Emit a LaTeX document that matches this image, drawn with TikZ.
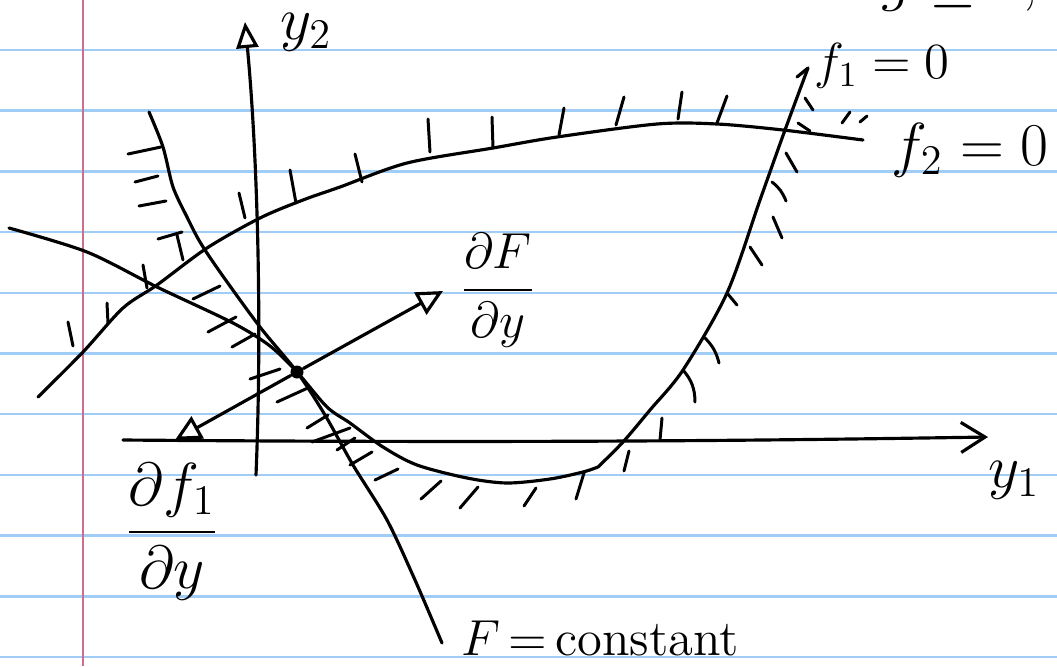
\documentclass[tikz,border=0pt]{standalone}
\usepackage{amsmath}
\usetikzlibrary{arrows.meta}
\definecolor{rulingblue}{RGB}{160,205,245}
\definecolor{marginred}{RGB}{205,110,140}
\tikzset{
  ruling/.style={draw=rulingblue, line width=0.7pt},
  marginline/.style={draw=marginred, line width=0.7pt},
  pen/.style={line width=0.9pt, draw=black, line cap=round, line join=round},
  hatch/.style={line width=0.85pt, draw=black, line cap=round},
  axisone/.style={pen, -{Straight Barb[length=0.24cm, width=0.3cm, line width=0.9pt]}},
  axistwo/.style={pen, -{Triangle[open, length=0.26cm, width=0.22cm, line width=0.9pt]}},
  gradarrow/.style={pen, -{Triangle[open, length=0.26cm, width=0.25cm, line width=0.9pt]}},
  dot/.style={circle, fill=black, inner sep=0pt, minimum size=0.13cm},
  hand/.style={font=\Large},
}

\begin{document}
\begin{tikzpicture}[x=0.01cm, y=-0.01cm]
\useasboundingbox (0,0) rectangle (1057,666);
% ruled paper
\foreach \k in {0,...,10}
  \draw[ruling] (0,{50+60.7*\k}) -- (1057,{50+60.7*\k});
\draw[marginline] (83,0) -- (83,666);
% axes
\coordinate (yoneS) at (123,440);
\coordinate (yoneE) at (988,437);
\coordinate (ytwoS) at (256,475);
\coordinate (ytwoE) at (245,22);
\draw[axisone] (yoneS) .. controls (500,443) and (740,441) .. (yoneE);
\draw[axistwo] (ytwoS) .. controls (262,330) and (258,160) .. (ytwoE);
\node[font=\LARGE] (lbyone) at (1014,480) {$y_1$};
\node[font=\LARGE] (lbytwo) at (306,32) {$y_2$};
% f2 = 0
\draw[pen] plot[smooth] coordinates {(38,397) (83,352) (123,308) (157,285) (207,248)
  (260,218) (303,200) (340,187) (407,163) (493,148) (557,137) (657,124) (717,124)
  (783,130) (863,140)};
% f1 = 0
\draw[pen] plot[smooth] coordinates {(9,228) (87,252) (157,287) (233,323) (270,346)
  (297,372) (327,407) (350,423) (383,447) (417,465) (467,478) (507,483) (550,479)
  (583,472) (598,467)}
  plot[smooth] coordinates {(598,467) (623,442) (650,410) (683,370) (727,293)
  (760,200) (785,130) (808,68)};
\draw[pen] (808,68) -- (797,77);
% F = constant
\draw[pen] plot[smooth] coordinates {(149,112) (163,147) (173,187) (187,217) (200,242)
  (220,272) (260,327) (297,372) (325,415) (353,465) (387,520) (415,580) (442,643)};
% hatches on f2
\draw[hatch] (68,322) -- (73,346);
\draw[hatch] (107,303) -- (108,323);
\draw[hatch] (143,265) -- (147,288);
\draw[hatch] (177,235) -- (183,260);
\draw[hatch] (239,193) -- (245,218);
\draw[hatch] (290,170) -- (296,203);
\draw[hatch] (355,154) -- (362,182);
\draw[hatch] (428,119) -- (430,152);
\draw[hatch] (492,117) -- (493,148);
\draw[hatch] (564,108) -- (559,135);
\draw[hatch] (624,97) -- (616,125);
\draw[hatch] (682,92) -- (678,119);
\draw[hatch] (727,96) -- (717,123);
\draw[hatch] (842,123) -- (850,112);
\draw[hatch] (860,122) -- (867,116);
% hatches on F = constant and f1
\draw[hatch] (128,154) -- (161,147);
\draw[hatch] (135,182) -- (158,176);
\draw[hatch] (139,206) -- (166,201);
\draw[hatch] (158,239) -- (182,232);
\draw[hatch] (193,299) -- (220,286);
\draw[hatch] (208,332) -- (236,317);
\draw[hatch] (232,347) -- (255,334);
\draw[hatch] (250,379) -- (280,369);
\draw[hatch] (277,402) -- (310,387);
\draw[hatch] (307,428) -- (328,415);
\draw[hatch] (312,442) -- (350,428);
\draw[hatch] (337,450) -- (355,438);
\draw[hatch] (350,465) -- (372,452);
\draw[hatch] (375,480) -- (398,469);
\draw[hatch] (421,499) -- (441,481);
\draw[hatch] (460,508) -- (478,487);
\draw[hatch] (524,506) -- (536,488);
\draw[hatch] (576,499) -- (584,473);
\draw[hatch] (624,471) -- (629,451);
\draw[hatch] (662,418) -- (660,440);
\draw[hatch] (683,370) to[bend left=20] (695,402);
\draw[hatch] (705,338) to[bend left=15] (719,363);
\draw[hatch] (727,293) -- (737,305);
\draw[hatch] (750,247) -- (762,265);
\draw[hatch] (773,217) -- (782,238);
\draw[hatch] (772,182) to[bend left=15] (786,201);
\draw[hatch] (786,153) -- (797,172);
\draw[hatch] (798,123) -- (810,131);
\draw[hatch] (805,98) -- (813,110);
% optimum and gradients
\node[dot] (P) at (297,372) {};
\coordinate (gradF) at (443,291);
\coordinate (gradf) at (175,440);
\draw[gradarrow] (P) -- (gradF);
\draw[gradarrow] (P) -- (gradf);
% labels
\node[hand] (lbgradF) at (498,290) {$\dfrac{\partial F}{\partial y}$};
\node[font=\LARGE] (lbgradf) at (172,532) {$\dfrac{\partial f_1}{\partial y}$};
\node[hand] (lbfone) at (882,66) {$f_1=0$};
\node[font=\LARGE] (lbftwo) at (970,150) {$f_2=0$};
\node[hand] (lbF) at (600,638) {$F$\,=\,constant};
\node[font=\LARGE, anchor=base] (lbtop) at (960,-1) {$g\geq 0,$};
\end{tikzpicture}
\end{document}
